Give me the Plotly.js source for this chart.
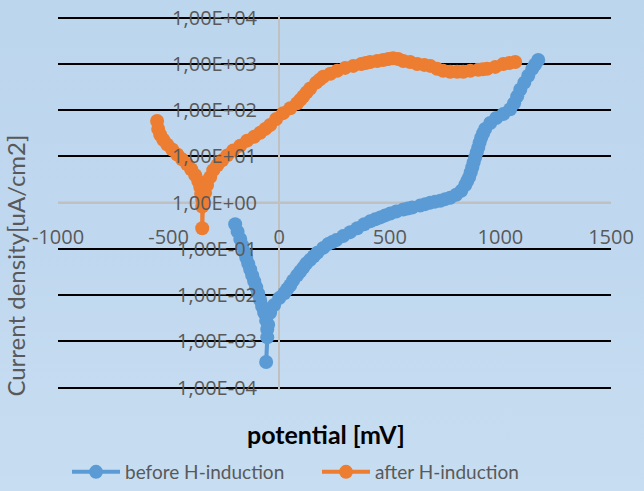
<!DOCTYPE html>
<html>
<head>
<meta charset="utf-8">
<script src="https://cdn.plot.ly/plotly-3.0.1.min.js"></script>
<style>
  html, body { margin: 0; padding: 0; }
  body { width: 644px; height: 491px; overflow: hidden;
         background: linear-gradient(180deg, #bcd6ee 0%, #c0d8ef 50%, #c7ddf1 100%); }
  #chart { width: 644px; height: 491px; }
</style>
</head>
<body>
<div id="chart"></div>
<script>
// before H-induction (potential in mV, current density in uA/cm2)
const beforePotential = [-199, -188, -176, -167, -158, -149, -140, -131, -122, -113, -104, -95, -86, -77, -68, -59, -54, -54, -59, -50,
  -41, -23, 0, 23, 36, 50, 63, 81, 95, 109, 122, 140, 156, 172, 199, 222, 240, 258, 289, 321, 353, 384, 411, 434, 457, 479, 502, 529,
  561, 581, 601, 637, 660, 683, 705, 728, 750, 773, 800, 823, 841, 850, 859, 866, 873, 879, 886, 893, 900, 906, 913, 922, 931, 954,
  981, 1013, 1044, 1062, 1076, 1090, 1108, 1126, 1144, 1157, 1171];
const beforeCurrent = [0.34, 0.236, 0.163, 0.119, 0.0863, 0.0644, 0.048, 0.0357, 0.0267, 0.0199, 0.0148, 0.0108, 0.00783, 0.00569,
  0.00414, 0.0028, 0.0018, 0.00122, 0.000357, 0.0023,
  0.00414, 0.00613, 0.00863, 0.0110, 0.0134, 0.0163, 0.0208, 0.0267, 0.0324, 0.0394, 0.048, 0.0583, 0.0692, 0.0822, 0.105, 0.128,
  0.141, 0.155, 0.189, 0.230, 0.280, 0.340, 0.394, 0.435, 0.480, 0.529, 0.583, 0.644,
  0.710, 0.745, 0.783, 0.863, 0.929, 1.0, 1.05, 1.10, 1.19, 1.28, 1.48, 1.80, 2.41, 2.94, 3.57, 4.57, 5.83, 7.45, 9.52, 12.2, 15.5,
  19.9, 25.4, 31.6, 39.4, 52.9, 67.6, 82.2, 105, 141, 199, 280, 394, 556, 783, 975, 1217];

// after H-induction
const afterPotential = [-552, -547, -538, -524, -506, -484, -461, -439, -416, -398, -380, -366, -357, -353, -348, -348, -348, -344,
  -335, -326, -312, -298, -280, -258, -235, -208, -176, -145, -113, -86, -63, -41, -14, 18, 50, 81, 95, 109, 124, 140, 167, 183, 199,
  231, 262, 298, 335, 371, 391, 411, 443, 470, 493, 515, 538, 561, 592, 624, 656, 683, 714, 741, 773, 805, 832, 864, 900, 920, 940,
  977, 1013, 1040, 1067];
const afterCurrent = [58.3, 39.4, 29.4, 23.0, 18.0, 14.1, 11.0, 8.63, 6.76, 5.29, 3.94, 2.94, 2.19, 1.55, 1.16, 0.822, 0.280, 1.05,
  1.63, 2.41, 3.57, 5.04, 6.44, 8.22, 10.5, 13.4, 17.1, 21.9, 26.6, 32.4, 39.4, 47.9, 64.3, 86.3, 110, 141, 167, 199, 242, 294, 394,
  457, 529, 613, 710, 822, 907, 1000, 1050, 1104, 1159, 1217, 1277, 1330, 1277, 1159, 1104, 1000, 952, 907, 783, 710, 676, 676, 676,
  710, 745, 764, 783, 863, 1000, 1050, 1104];

const xTicks = [-1000, -500, 0, 500, 1000, 1500];
const yTicks = [1e-4, 1e-3, 1e-2, 1e-1, 1e0, 1e1, 1e2, 1e3, 1e4];
const yTickText = ['1,00E-04', '1,00E-03', '1,00E-02', '1,00E-01', '1,00E+00', '1,00E+01', '1,00E+02', '1,00E+03', '1,00E+04'];
const yGridVals = [1e-4, 1e-3, 1e-2, 1e-1, 1e1, 1e2, 1e3, 1e4];
const seriesNames = ['before H-induction', 'after H-induction'];

const W = 644, H = 491;
const FONT = 'Lato, "Open Sans", sans-serif';
const TICKFONT = '"Open Sans", Lato, sans-serif';
const GREY = '#595959';
const ext = 0.05;          // range extension in decades so edge gridlines are kept
const pad = 47 * ext;      // 47 px per decade
const plotL = 58, plotR = 611, plotT = 18 - pad, plotB = 394 + pad;
const axisX = 279, axisY = 206;

const traces = [
  { x: beforePotential, y: beforeCurrent, name: seriesNames[0], type: 'scatter', mode: 'lines+markers',
    line: { color: '#5B9BD5', width: 4 }, marker: { color: '#5B9BD5', size: 14 } },
  { x: afterPotential, y: afterCurrent, name: seriesNames[1], type: 'scatter', mode: 'lines+markers',
    line: { color: '#ED7D31', width: 4 }, marker: { color: '#ED7D31', size: 14 } }
];

const layout = {
  width: W, height: H,
  margin: { l: 0, r: 0, t: 0, b: 0, pad: 0 },
  paper_bgcolor: 'rgba(0,0,0,0)',
  plot_bgcolor: 'rgba(0,0,0,0)',
  font: { family: FONT, color: GREY, size: 20 },
  showlegend: true,
  xaxis: {
    range: [-1000, 1500],
    domain: [plotL / W, plotR / W],
    anchor: 'free', position: (H - axisY) / H,
    tickvals: xTicks, ticktext: xTicks.map(String),
    ticks: '', ticklabelstandoff: 20,
    showgrid: false, showline: false,
    zeroline: true, zerolinecolor: '#c0c0c0', zerolinewidth: 2,
    tickfont: { family: TICKFONT, size: 20, color: GREY },
    fixedrange: true
  },
  yaxis: {
    type: 'log', range: [-4 - ext, 4 + ext],
    domain: [(H - plotB) / H, (H - plotT) / H],
    anchor: 'free', position: axisX / W,
    tickvals: yTicks, ticktext: yTickText,
    ticks: '', ticklabelstandoff: 22,
    showgrid: false,
    minor: { tickmode: 'array', tickvals: yGridVals, showgrid: true, gridcolor: '#000000', gridwidth: 2, ticks: '' },
    showline: false, zeroline: false,
    tickfont: { family: TICKFONT, size: 20, color: GREY },
    fixedrange: true
  },
  shapes: [
    { type: 'line', xref: 'paper', yref: 'paper', layer: 'below',
      x0: plotL / W, x1: plotR / W, y0: (H - axisY) / H, y1: (H - axisY) / H,
      line: { color: '#c0c0c0', width: 2.5 } }
  ],
  annotations: [
    { text: 'potential [mV]', xref: 'paper', yref: 'paper', x: 326 / W, y: (H - 441) / H,
      showarrow: false, xanchor: 'center', yanchor: 'middle',
      font: { family: FONT, size: 25, color: '#000000', weight: 'bold' } },
    { text: 'Current density[uA/cm2]', xref: 'paper', yref: 'paper', x: 16 / W, y: (H - 270) / H,
      showarrow: false, textangle: -90, xanchor: 'center', yanchor: 'middle',
      font: { family: FONT, size: 24, color: GREY } }
  ],
  legend: {
    orientation: 'h', x: 67 / W, xanchor: 'left', y: (H - 480) / H, yanchor: 'middle',
    font: { family: FONT, size: 19, color: GREY },
    bgcolor: 'rgba(0,0,0,0)', itemwidth: 48, entrywidth: 187, entrywidthmode: 'pixels',
    itemclick: false, itemdoubleclick: false
  }
};

Plotly.newPlot('chart', traces, layout, { displayModeBar: false, staticPlot: true });
</script>
</body>
</html>
